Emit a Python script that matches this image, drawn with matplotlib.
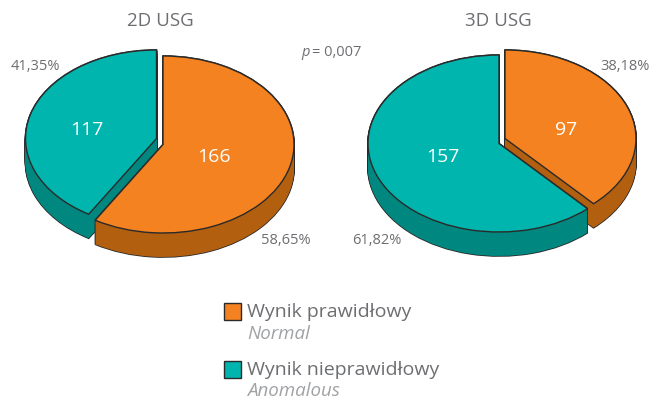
import matplotlib
matplotlib.use('Agg')
import matplotlib.pyplot as plt
from matplotlib.patches import Rectangle

plt.rcParams['font.family'] = ['Open Sans', 'DejaVu Sans']

W, H = 650, 400
RX, RY = 131, 88.5   # ellipse radii in pixels
DEPTH = 24

titles = ['2D USG', '3D USG']
normal_counts = [166, 97]
anomalous_counts = [117, 157]
normal_pct = ['58,65%', '38,18%']
anomalous_pct = ['41,35%', '61,82%']
p_value = '0,007'
legend_pl = ['Wynik prawidłowy', 'Wynik nieprawidłowy']
legend_en = ['Normal', 'Anomalous']

ORANGE = '#F58220'
ORANGE_DARK = '#B35F10'
TEAL = '#00B5AD'
TEAL_DARK = '#00877F'
EDGE = '#2A2A2A'
GREY = '#6D6E71'
LIGHT_GREY = '#A0A2A5'

fig = plt.figure(figsize=(W / 100, H / 100), dpi=100)
ax = fig.add_axes([0, 0, 1, 1])


def put_text(x, y, s, size, color=GREY, ha='center', **kw):
    # x, y are pixels from the top left
    fig.text(x / W, 1 - y / H, s, fontsize=size, color=color, ha=ha, va='center', **kw)


def draw_slice(values, idx, px, py, color, edge=None, lw=0.0):
    # one slice of the pie, the other one is hidden
    cx, cy = px / RX, (H - py) / RY
    wedges, _ = ax.pie(values, startangle=90, counterclock=False, center=(cx, cy),
                       colors=[color, color], frame=True,
                       wedgeprops={'edgecolor': edge if edge else 'none', 'linewidth': lw})
    wedges[1 - idx].set_visible(False)


def draw_3d_slice(values, idx, px, py, color, dark):
    # outline of the side wall first, then its fill, then the top face
    for k in range(DEPTH, -1, -1):
        draw_slice(values, idx, px, py + k, EDGE, EDGE, 1.2)
    for k in range(DEPTH, -1, -1):
        draw_slice(values, idx, px, py + k, dark)
    draw_slice(values, idx, px, py, color, EDGE, 1.0)


# left pie: orange slice is first, teal one second
left = [normal_counts[0], anomalous_counts[0]]
draw_3d_slice(left, 1, 156.5, 138.5, TEAL, TEAL_DARK)
draw_3d_slice(left, 0, 163, 144.5, ORANGE, ORANGE_DARK)

# right pie
right = [normal_counts[1], anomalous_counts[1]]
draw_3d_slice(right, 0, 505, 138.5, ORANGE, ORANGE_DARK)
draw_3d_slice(right, 1, 499, 143.5, TEAL, TEAL_DARK)

ax.set_aspect('auto')
ax.set_xlim(0, W / RX)
ax.set_ylim(0, H / RY)
ax.axis('off')

put_text(160, 21, titles[0], 13.5)
put_text(498, 21, titles[1], 13.5)

put_text(214, 157, str(normal_counts[0]), 14, 'white')
put_text(87, 130, str(anomalous_counts[0]), 14, 'white')
put_text(566, 130, str(normal_counts[1]), 14, 'white')
put_text(443, 157, str(anomalous_counts[1]), 14, 'white')

put_text(35, 66, anomalous_pct[0], 10.5)
put_text(286, 240, normal_pct[0], 10.5)
put_text(625, 66, normal_pct[1], 10.5)
put_text(377, 240, anomalous_pct[1], 10.5)

put_text(301, 52, 'p', 10.5, ha='left', style='italic')
put_text(312.5, 52, '= ' + p_value, 10.5, ha='left')

# legend
for py, color in zip([311, 369], [ORANGE, TEAL]):
    fig.add_artist(Rectangle((224 / W, 1 - (py + 9) / H), 17 / W, 17 / H, transform=fig.transFigure,
                             facecolor=color, edgecolor=EDGE, linewidth=1.0))
put_text(247, 312, legend_pl[0], 14, ha='left')
put_text(247, 334, legend_en[0], 13.5, LIGHT_GREY, ha='left', style='italic')
put_text(247, 370, legend_pl[1], 14, ha='left')
put_text(247, 391, legend_en[1], 13.5, LIGHT_GREY, ha='left', style='italic')

plt.savefig('out.png', dpi=100)
